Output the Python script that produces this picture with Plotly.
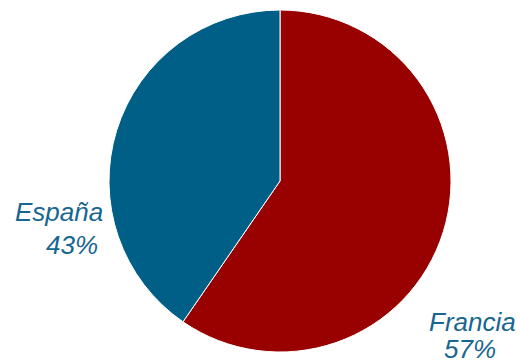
import plotly.graph_objects as go

labels = ["Francia", "España"]
values = [59.6, 40.4]          # slice shares as drawn in the picture
pct_text = ["57%", "43%"]      # percentages printed on the chart
colors = ["#990000", "#005f87"]
label_color = "#17668f"

fig = go.Figure(go.Pie(
    labels=labels, values=values, sort=False, direction="clockwise", rotation=0,
    marker=dict(colors=colors, line=dict(color="white", width=1)),
    textinfo="none", hoverinfo="label", showlegend=False,
    domain=dict(x=[(280 - 171) / 520, (280 + 171) / 520], y=[(361 - 352) / 361, (361 - 10) / 361]),
))

pos = {"España": [(59, 212), (72, 245)], "Francia": [(472, 322), (470, 349)]}
for lab, pt in zip(labels, pct_text):
    (x1, y1), (x2, y2) = pos[lab]
    for (x, y), t in [((x1, y1), lab), ((x2, y2), pt)]:
        fig.add_annotation(x=x / 520, y=1 - y / 361, xref="paper", yref="paper", text=f"<i>{t}</i>",
                           showarrow=False, xanchor="center", yanchor="middle",
                           font=dict(family="Liberation Sans, Arial", size=26, color=label_color))

fig.update_layout(width=520, height=361, margin=dict(l=0, r=0, t=0, b=0),
                  paper_bgcolor="white", plot_bgcolor="white")
fig.write_html("out.html")
